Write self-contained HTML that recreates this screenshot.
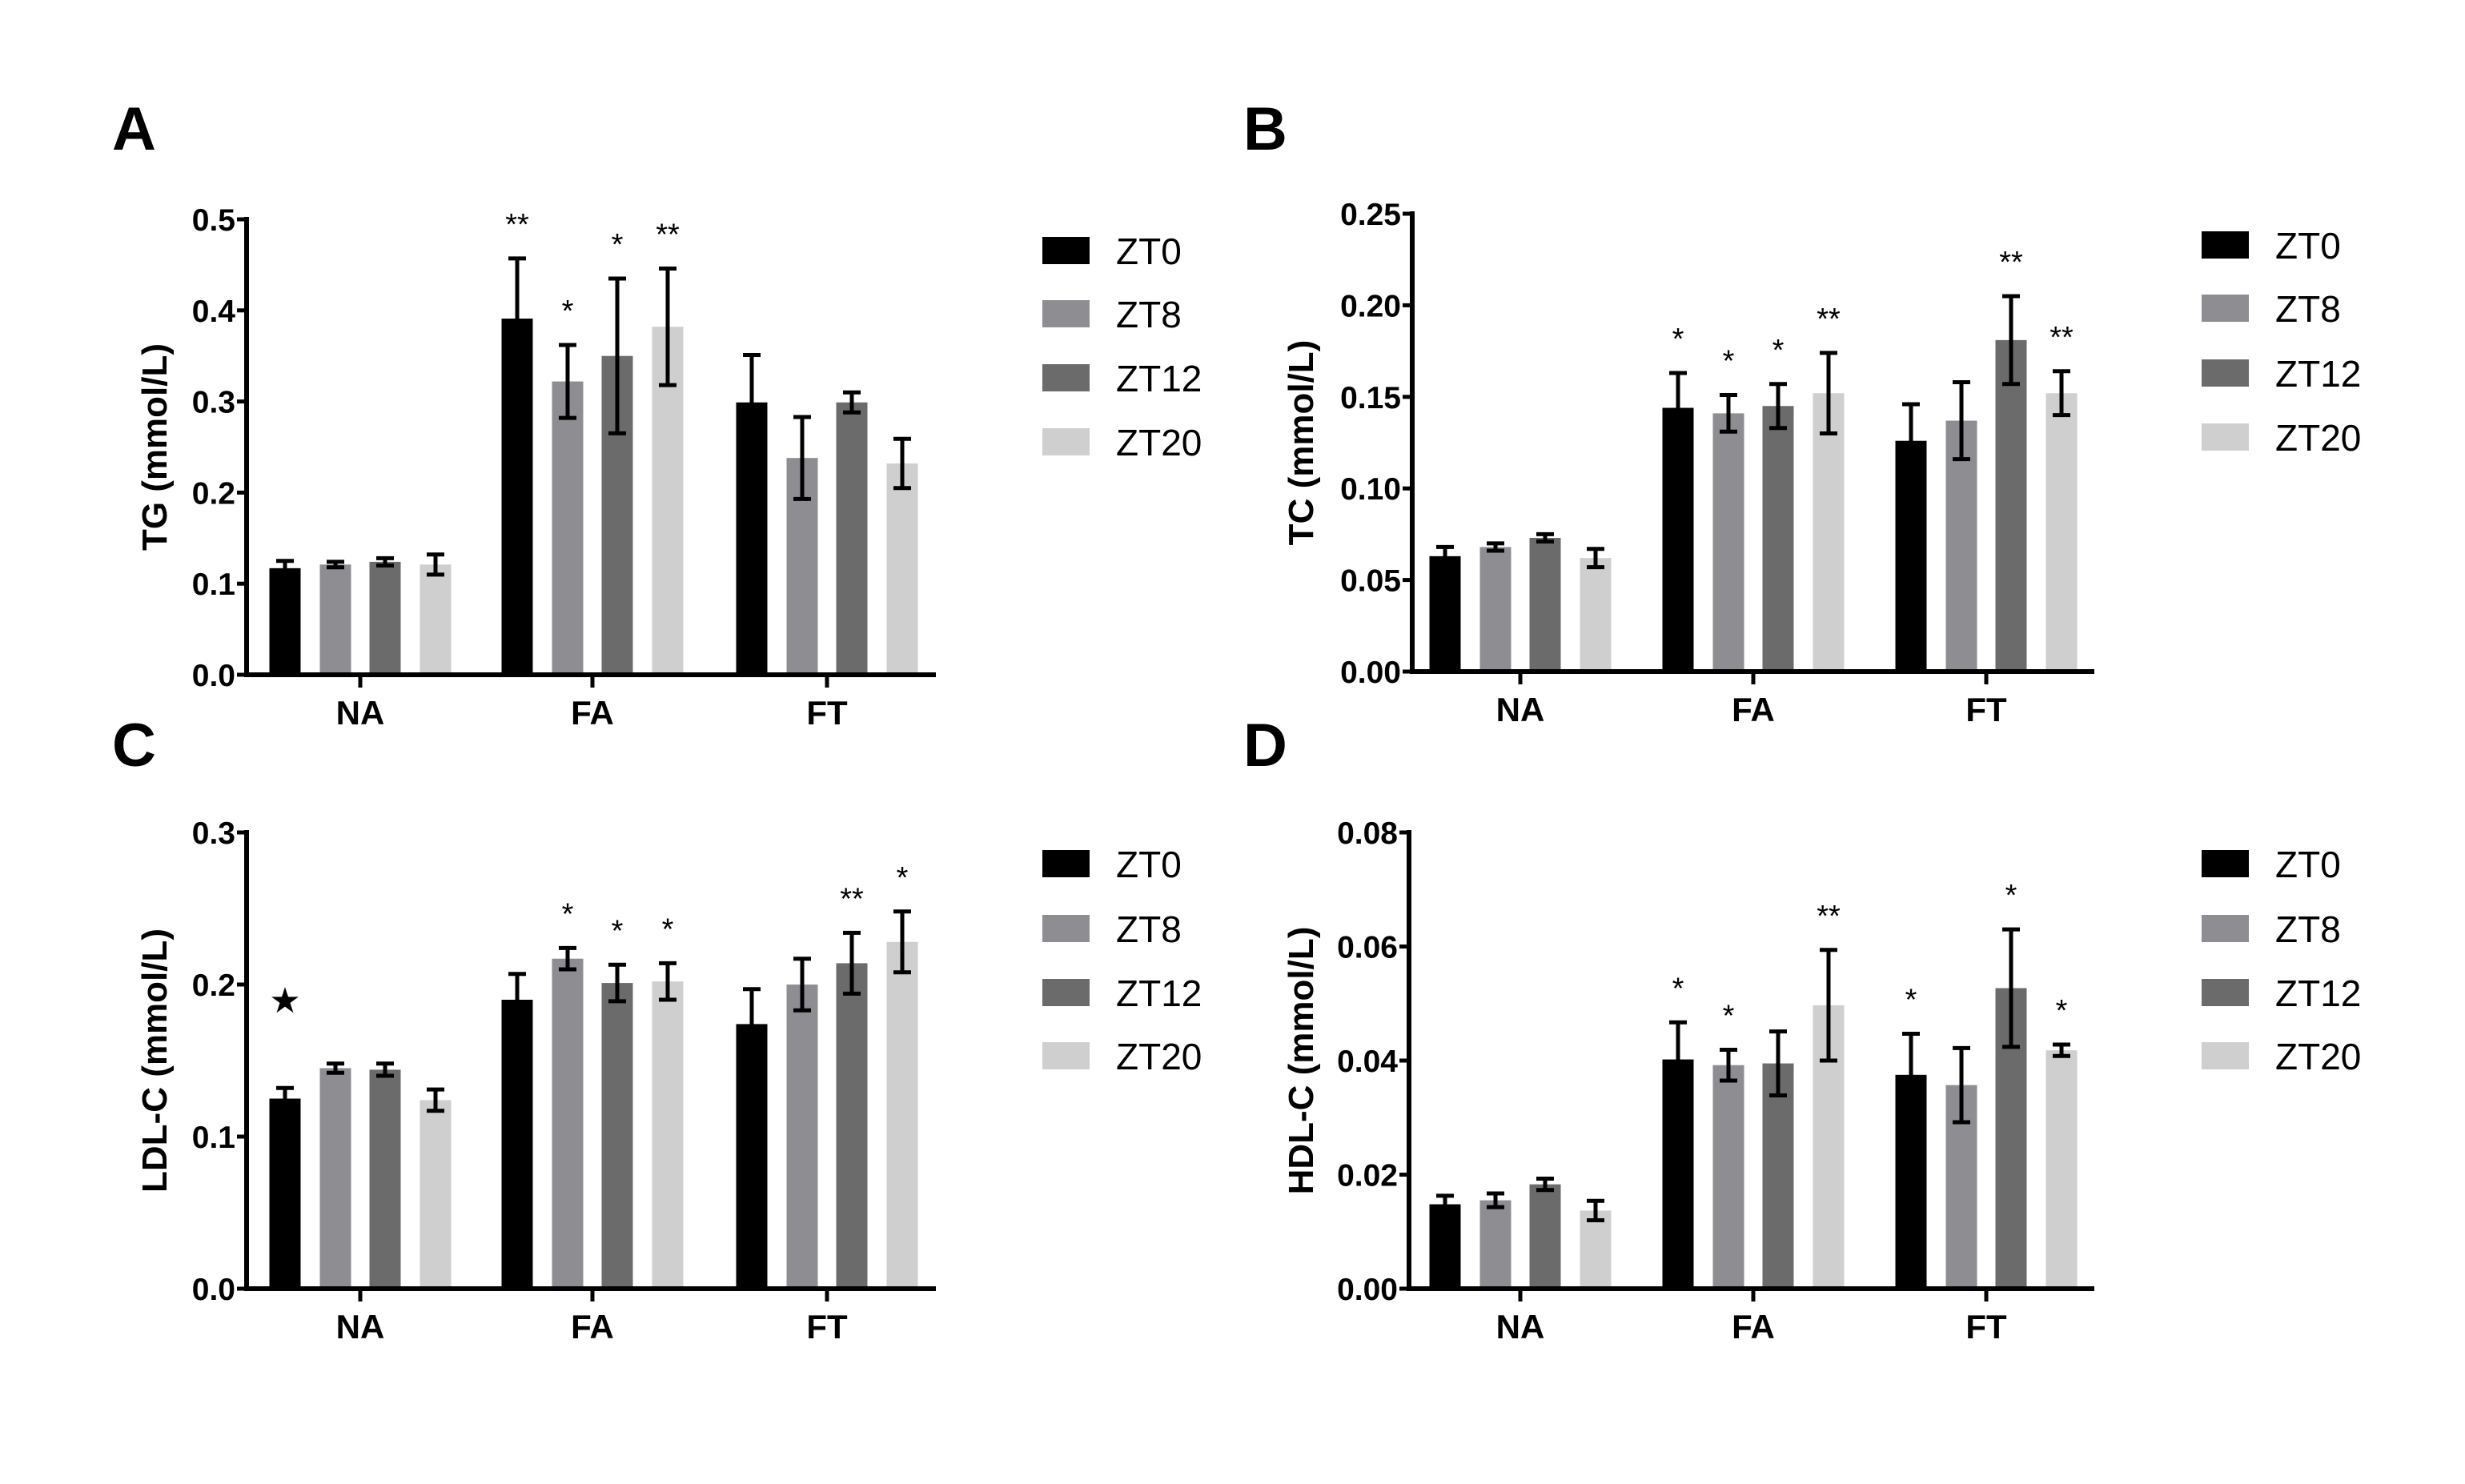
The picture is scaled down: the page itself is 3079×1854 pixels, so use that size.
<!DOCTYPE html>
<html><head><meta charset="utf-8"><style>
html,body{margin:0;padding:0;background:#fff}
svg{display:block}
text{font-family:"Liberation Sans",Arial,sans-serif}
</style></head><body>
<svg id="fig" width="3079" height="1854" viewBox="0 0 3079 1854" xmlns="http://www.w3.org/2000/svg"></svg>
<script>
const groups = ["NA","FA","FT"];
const series = ["ZT0","ZT8","ZT12","ZT20"];
const colors = ["#000000","#8e8e92","#6b6b6b","#cfcfcf"];
// Panel A: TG
const tgMean = [[0.117,0.121,0.124,0.121],[0.391,0.322,0.350,0.382],[0.299,0.238,0.299,0.232]];
const tgErr  = [[0.008,0.003,0.004,0.011],[0.066,0.040,0.085,0.064],[0.052,0.045,0.011,0.027]];
const tgSig  = [["","","",""],["**","*","*","**"],["","","",""]];
const tgTicks = ["0.0","0.1","0.2","0.3","0.4","0.5"];
// Panel B: TC
const tcMean = [[0.063,0.068,0.073,0.062],[0.144,0.141,0.145,0.152],[0.126,0.137,0.181,0.152]];
const tcErr  = [[0.005,0.002,0.002,0.005],[0.019,0.010,0.012,0.022],[0.020,0.021,0.024,0.012]];
const tcSig  = [["","","",""],["*","*","*","**"],["","","**","**"]];
const tcTicks = ["0.00","0.05","0.10","0.15","0.20","0.25"];
// Panel C: LDL-C
const ldlMean = [[0.125,0.145,0.144,0.124],[0.190,0.217,0.201,0.202],[0.174,0.200,0.214,0.228]];
const ldlErr  = [[0.007,0.003,0.004,0.007],[0.017,0.007,0.012,0.012],[0.023,0.017,0.020,0.020]];
const ldlSig  = [["","","",""],["","*","*","*"],["","","**","*"]];
const ldlTicks = ["0.0","0.1","0.2","0.3"];
// Panel D: HDL-C
const hdlMean = [[0.0148,0.0155,0.0183,0.0137],[0.0402,0.0392,0.0395,0.0497],[0.0375,0.0357,0.0527,0.0418]];
const hdlErr  = [[0.0015,0.0012,0.0010,0.0017],[0.0065,0.0027,0.0056,0.0097],[0.0072,0.0065,0.0103,0.0010]];
const hdlSig  = [["","","",""],["*","*","","**"],["*","","*","*"]];
const hdlTicks = ["0.00","0.02","0.04","0.06","0.08"];

const NS="http://www.w3.org/2000/svg";
const svg=document.getElementById('fig');
function mk(tag,attrs,parent,txt){const e=document.createElementNS(NS,tag);for(const k in attrs)e.setAttribute(k,attrs[k]);if(txt!==undefined)e.textContent=txt;(parent||svg).appendChild(e);return e;}

function panel(cfg){
  const g=mk('g',{});
  
  
  const ax=cfg.ax, y0=cfg.y0, yTop=cfg.yTop, xEnd=cfg.xEnd, max=cfg.max;
  const Y=v=>y0-(v/max)*(y0-yTop);
  const gc=cfg.centers, offs=[-94,-31,31,94], bw=39;
  const letter=mk('text',{x:cfg.lx,y:cfg.ly,'font-size':76,'font-weight':'bold'},g,cfg.letter);
  
  
  for(let gi=0;gi<groups.length;gi++){
    for(let si=0;si<series.length;si++){
      const m=cfg.mean[gi][si], e=cfg.err[gi][si];
      const cx=gc[gi]+offs[si];
      const r=mk('rect',{x:cx-bw/2,y:Y(m),width:bw,height:y0-Y(m),fill:colors[si]},g);
      
      
      const eb=mk('path',{d:`M${cx} ${Y(m-e)}V${Y(m+e)}M${cx-11} ${Y(m+e)}H${cx+11}M${cx-11} ${Y(m-e)}H${cx+11}`,stroke:'#000','stroke-width':5,fill:'none'},g);
      
      
      const s=cfg.sig[gi][si];
      if(s){const t=mk('text',{x:cx,y:Y(m+e)-30,'font-size':38,'text-anchor':'middle'},g,s);
        
        }
    }
  }
  if(cfg.star){const t=mk('text',{x:gc[0]+offs[0],y:Y(cfg.star)+16,'font-size':44,'text-anchor':'middle'},g,'★');
    
    }
  const a=mk('path',{d:`M${ax} ${yTop-3}V${y0}H${xEnd}`,stroke:'#000','stroke-width':6,fill:'none'},g);
  
  
  cfg.ticks.forEach(tk=>{
    const v=parseFloat(tk), yy=Y(v);
    mk('line',{x1:ax-12,x2:ax,y1:yy,y2:yy,stroke:'#000','stroke-width':5},g);
    const t=mk('text',{x:ax-14,y:yy+14,'font-size':39,'font-weight':'bold','text-anchor':'end'},g,tk);
    
    
  });
  groups.forEach((gname,gi)=>{
    mk('line',{x1:gc[gi],x2:gc[gi],y1:y0,y2:y0+16,stroke:'#000','stroke-width':5},g);
    const t=mk('text',{x:gc[gi],y:y0+62,'font-size':42,'font-weight':'bold','text-anchor':'middle'},g,gname);
    
    
  });
  const yt=mk('text',{x:0,y:0,'font-size':44,'font-weight':'bold','text-anchor':'middle',transform:`translate(${cfg.tx},${(y0+yTop)/2}) rotate(-90)`},g,cfg.title);
  
  
  series.forEach((s,si)=>{
    const ly=cfg.legY[si];
    const r=mk('rect',{x:cfg.legX,y:ly-17,width:59,height:34,fill:colors[si]},g);
    
    
    const t=mk('text',{x:cfg.legX+92,y:ly+17,'font-size':46},g,s);
    
    
  });
}
panel({id:'a',letter:'A',lx:140,ly:187,ax:308,y0:843,yTop:274,xEnd:1169,max:0.5,centers:[450,740,1033],
  mean:tgMean,err:tgErr,sig:tgSig,ticks:tgTicks,title:'TG (mmol/L)',tx:208,legX:1302,legY:[313,392,472,552]});
panel({id:'b',letter:'B',lx:1553,ly:187,ax:1764,y0:839,yTop:267,xEnd:2616,max:0.25,centers:[1899,2190,2481],
  mean:tcMean,err:tcErr,sig:tcSig,ticks:tcTicks,title:'TC (mmol/L)',tx:1640,legX:2750,legY:[306,385,466,546]});
panel({id:'c',letter:'C',lx:140,ly:957,ax:308,y0:1610,yTop:1040,xEnd:1169,max:0.3,centers:[450,740,1033],
  mean:ldlMean,err:ldlErr,sig:ldlSig,ticks:ldlTicks,title:'LDL-C (mmol/L)',tx:208,legX:1302,legY:[1079,1160,1240,1319],star:0.19});
panel({id:'d',letter:'D',lx:1553,ly:957,ax:1760,y0:1610,yTop:1040,xEnd:2616,max:0.08,centers:[1899,2190,2481],
  mean:hdlMean,err:hdlErr,sig:hdlSig,ticks:hdlTicks,title:'HDL-C (mmol/L)',tx:1640,legX:2750,legY:[1079,1160,1240,1319]});
</script>
</body></html>
